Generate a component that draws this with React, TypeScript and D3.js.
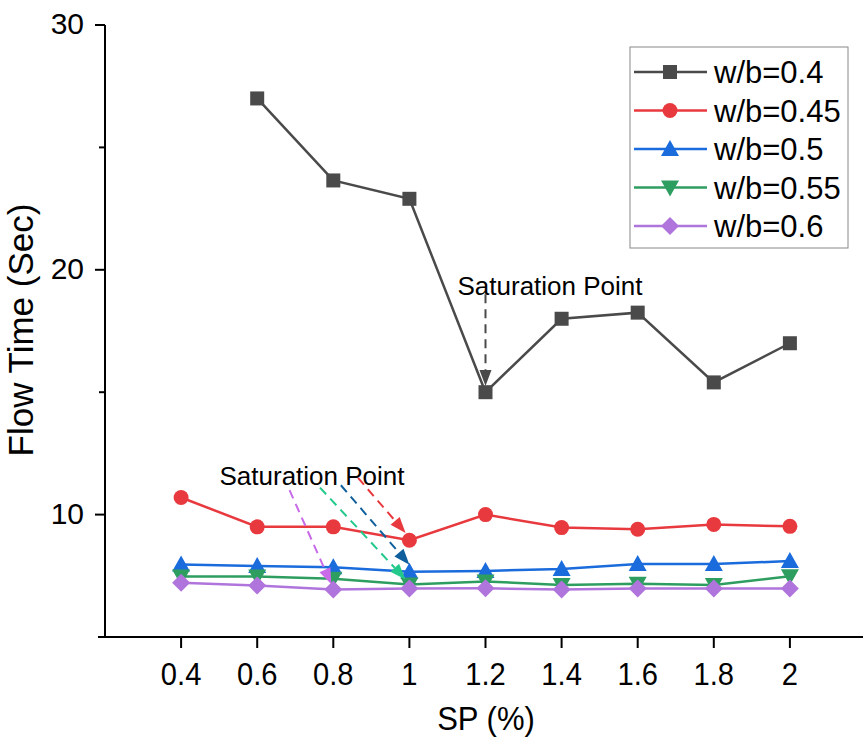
import React from "react";
import * as d3 from "d3";

const spValues = [0.4, 0.6, 0.8, 1.0, 1.2, 1.4, 1.6, 1.8, 2.0];
const xTickLabels = ["0.4", "0.6", "0.8", "1", "1.2", "1.4", "1.6", "1.8", "2"];
const yTicks = [10, 20, 30];
const yMinorTicks = [15, 25];

const wb040 = [null, 27.0, 23.65, 22.9, 15.0, 18.0, 18.25, 15.4, 17.0];
const wb045 = [10.7, 9.5, 9.5, 8.95, 10.0, 9.47, 9.4, 9.6, 9.52];
const wb050 = [7.96, 7.9, 7.85, 7.67, 7.7, 7.78, 7.98, 7.98, 8.1];
const wb055 = [7.47, 7.47, 7.38, 7.14, 7.27, 7.12, 7.18, 7.12, 7.48];
const wb060 = [7.22, 7.1, 6.94, 6.98, 6.99, 6.94, 6.98, 6.98, 6.98];

const seriesNames = ["w/b=0.4", "w/b=0.45", "w/b=0.5", "w/b=0.55", "w/b=0.6"];
const seriesData = [wb040, wb045, wb050, wb055, wb060];
const seriesColors = ["#4a4a4a", "#e8393e", "#1a6bdc", "#2e9e60", "#b075dc"];
const seriesShapes = ["square", "circle", "triangle", "triangleDown", "diamond"];

// saturation arrows: [fromX, fromY, toX, toY, color] in data units
const arrowsTop = [[1.2, 19.0, 1.2, 15.25, "#4a4a4a"]];
const arrowsLow = [
  [0.685, 11.0, 0.795, 7.15, "#c96ae8"],
  [0.765, 11.1, 0.99, 7.35, "#22c98a"],
  [0.82, 11.2, 1.0, 7.95, "#0e5f9c"],
  [0.865, 11.5, 0.99, 9.25, "#e8393e"],
];

const W = 863;
const H = 751;
const x = d3.scaleLinear().domain([0.2, 2.2]).range([105, 866]);
const y = d3.scaleLinear().domain([5, 30]).range([637, 25]);

function Marker({ shape, cx, cy, color }: { shape: string; cx: number; cy: number; color: string }) {
  if (shape === "square") return <rect x={cx - 7} y={cy - 7} width={14} height={14} fill={color} />;
  if (shape === "circle") return <circle cx={cx} cy={cy} r={7.5} fill={color} />;
  if (shape === "triangle")
    return <path d={`M${cx},${cy - 9}L${cx + 9},${cy + 7}L${cx - 9},${cy + 7}Z`} fill={color} />;
  if (shape === "triangleDown")
    return <path d={`M${cx},${cy + 9}L${cx + 9},${cy - 7}L${cx - 9},${cy - 7}Z`} fill={color} />;
  return <path d={`M${cx},${cy - 9}L${cx + 9},${cy}L${cx},${cy + 9}L${cx - 9},${cy}Z`} fill={color} />;
}

function Arrow({ a }: { a: any[] }) {
  const [x0, y0, x1, y1, c] = a;
  const px0 = x(x0), py0 = y(y0), px1 = x(x1), py1 = y(y1);
  const ang = Math.atan2(py1 - py0, px1 - px0);
  const L = 16, Wd = 6;
  const bx = px1 - L * Math.cos(ang), by = py1 - L * Math.sin(ang);
  const nx = -Math.sin(ang), ny = Math.cos(ang);
  return (
    <g>
      <line x1={px0} y1={py0} x2={bx} y2={by} stroke={c} strokeWidth={2} strokeDasharray="9,6" />
      <path d={`M${px1},${py1}L${bx + nx * Wd},${by + ny * Wd}L${bx - nx * Wd},${by - ny * Wd}Z`} fill={c} />
    </g>
  );
}

export default function App() {
  const font = "'Liberation Sans', Arial, sans-serif";
  return (
    <svg width={W} height={H} style={{ position: "absolute", left: 0, top: 0, background: "#fff" }}>
      <rect width={W} height={H} fill="#fff" />
      {/* axes */}
      <line x1={105} y1={y(30)} x2={105} y2={637} stroke="#000" strokeWidth={2} />
      <line x1={98} y1={637} x2={863} y2={637} stroke="#000" strokeWidth={2} />
      {yTicks.map((t) => (
        <g key={t}>
          <line x1={95} x2={105} y1={y(t)} y2={y(t)} stroke="#000" strokeWidth={2} />
          <text x={84} y={y(t) + 9} textAnchor="end" fontFamily={font} fontSize={30}>
            {t}
          </text>
        </g>
      ))}
      {yMinorTicks.map((t) => (
        <line key={t} x1={99} x2={105} y1={y(t)} y2={y(t)} stroke="#000" strokeWidth={2} />
      ))}
      {spValues.map((v, i) => (
        <g key={v}>
          <line x1={x(v)} x2={x(v)} y1={637} y2={648} stroke="#000" strokeWidth={2} />
          <text
            x={x(v)}
            y={685}
            textAnchor="middle"
            fontFamily={font}
            fontSize={31}
            transform={`translate(${x(v)},0) scale(0.94,1) translate(${-x(v)},0)`}
          >
            {xTickLabels[i]}
          </text>
        </g>
      ))}
      <text
        x={486}
        y={730}
        textAnchor="middle"
        fontFamily={font}
        fontSize={33}
        transform={`translate(486,0) scale(0.94,1) translate(-486,0)`}
      >
        SP (%)
      </text>
      <text transform={`translate(33,330) rotate(-90)`} textAnchor="middle" fontFamily={font} fontSize={35}>
        Flow Time (Sec)
      </text>
      {/* series */}
      {seriesData.map((data, si) => {
        const pts = data
          .map((v, i) => (v == null ? null : [x(spValues[i]), y(v as number)]))
          .filter((p) => p) as [number, number][];
        const line = d3.line()(pts) || "";
        return (
          <g key={si}>
            <path d={line} fill="none" stroke={seriesColors[si]} strokeWidth={2.5} />
            {pts.map((p, i) => (
              <Marker key={i} shape={seriesShapes[si]} cx={p[0]} cy={p[1]} color={seriesColors[si]} />
            ))}
          </g>
        );
      })}
      {/* annotations */}
      <text x={550} y={295} textAnchor="middle" fontFamily={font} fontSize={26}>
        Saturation Point
      </text>
      {arrowsTop.map((a, i) => (
        <Arrow key={"t" + i} a={a} />
      ))}
      <text x={312} y={485} textAnchor="middle" fontFamily={font} fontSize={26}>
        Saturation Point
      </text>
      {arrowsLow.map((a, i) => (
        <Arrow key={"l" + i} a={a} />
      ))}
      {/* legend */}
      <rect x={630} y={47} width={218} height={201} fill="#fff" stroke="#888" strokeWidth={1} />
      {seriesNames.map((n, i) => {
        const ly = 72 + i * 38.5;
        return (
          <g key={n}>
            <line x1={634} x2={707} y1={ly} y2={ly} stroke={seriesColors[i]} strokeWidth={2.5} />
            <Marker shape={seriesShapes[i]} cx={670} cy={ly} color={seriesColors[i]} />
            <text x={714} y={ly + 11} fontFamily={font} fontSize={31}>
              {n}
            </text>
          </g>
        );
      })}
    </svg>
  );
}
